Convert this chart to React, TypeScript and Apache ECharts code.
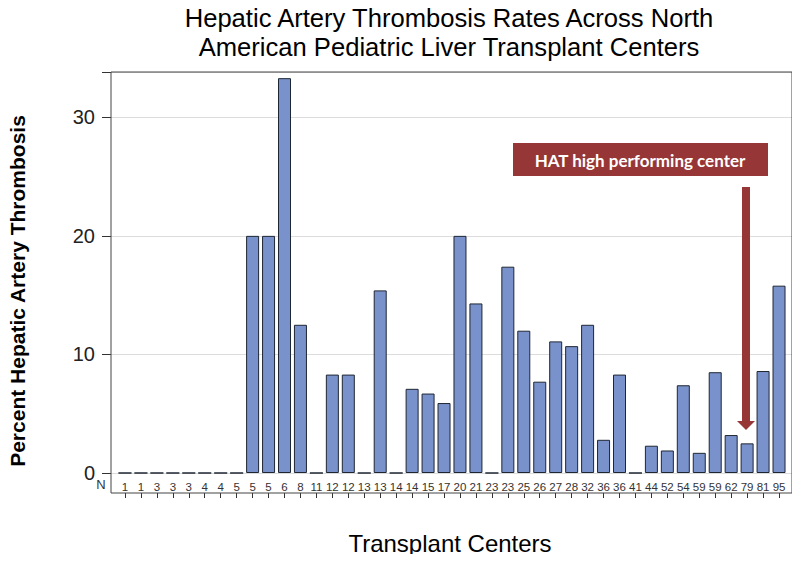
import React, { useEffect, useRef } from "react";
import * as echarts from "echarts";

const centers = ["1","1","3","3","3","4","4","5","5","5","6","8","11","12","12","13","13","14","14","15","17","20","21","23","23","25","26","27","28","32","36","36","41","44","52","54","59","59","62","79","81","95"];
const hatRates = [0,0,0,0,0,0,0,0,20,20,33.3,12.5,0,8.3,8.3,0,15.4,0,7.1,6.7,5.9,20,14.3,0,17.4,12,7.7,11.1,10.7,12.5,2.8,8.3,0,2.3,1.9,7.4,1.7,8.5,3.2,2.5,8.6,15.8];
const yTicks = [0, 10, 20, 30];
const Y_MAX = 33.82;

const FONT = "Liberation Sans";
const RED = "#973636";

export default function App() {
  const ref = useRef<HTMLDivElement>(null);
  useEffect(() => {
    if (!ref.current) return;
    const chart = echarts.init(ref.current, undefined, { renderer: "svg" });
    chart.setOption({
      animation: false,
      backgroundColor: "#fff",
      textStyle: { fontFamily: FONT },
      grid: [
        { left: 117, right: 13, top: 72, bottom: 89 },
        { left: 111, right: 8, top: 72, bottom: 89 },
      ],
      xAxis: [
        {
          type: "category",
          gridIndex: 0,
          data: centers,
          axisLine: { show: false },
          axisTick: { show: false },
          axisLabel: { fontSize: 11.5, color: "#333", margin: 8, interval: 0, fontFamily: FONT },
          splitLine: { show: false },
        },
        {
          type: "category",
          gridIndex: 0,
          data: centers,
          position: "bottom",
          offset: 20,
          axisLine: { show: false },
          axisTick: { show: true, alignWithLabel: true, length: 5, interval: 0, lineStyle: { color: "#333" } },
          axisLabel: { show: false },
        },
        { type: "value", gridIndex: 1, min: 0, max: 1, show: false },
      ],
      yAxis: [
        { type: "value", gridIndex: 0, min: 0, max: Y_MAX, show: false },
        {
          type: "value",
          gridIndex: 1,
          min: 0,
          max: Y_MAX,
          interval: 10,
          axisLine: { show: false },
          axisTick: { show: true, length: 9, lineStyle: { color: "#333" } },
          axisLabel: {
            fontSize: 20,
            color: "#222",
            margin: 16,
            fontFamily: FONT,
            formatter: (v: number) => (yTicks.includes(v) ? String(v) : ""),
          },
          splitLine: { show: true, lineStyle: { color: "#dcdcdc", width: 1 } },
        },
      ],
      series: [
        {
          type: "bar",
          xAxisIndex: 0,
          yAxisIndex: 0,
          data: hatRates,
          barWidth: 13,
          itemStyle: { color: "#7a92cb", borderColor: "#1f2633", borderWidth: 1 },
        },
      ],
      graphic: [
        {
          type: "rect",
          shape: { x: 111, y: 72, width: 681, height: 421 },
          style: { fill: "none", stroke: "#444", lineWidth: 1 },
          silent: true,
          z: 10,
        },
        {
          type: "text",
          x: 449,
          y: 3,
          style: {
            text: "Hepatic Artery Thrombosis Rates Across North\nAmerican Pediatric Liver Transplant Centers",
            fontSize: 25.6,
            lineHeight: 29,
            fontFamily: FONT,
            fill: "#000",
            textAlign: "center",
            textVerticalAlign: "top",
          },
        },
        {
          type: "text",
          x: 17,
          y: 291,
          rotation: Math.PI / 2,
          style: {
            text: "Percent Hepatic Artery Thrombosis",
            fontSize: 21,
            fontWeight: "bold",
            fontFamily: FONT,
            fill: "#000",
            textAlign: "center",
            textVerticalAlign: "middle",
          },
        },
        {
          type: "text",
          x: 450,
          y: 543,
          style: {
            text: "Transplant Centers",
            fontSize: 24,
            fontFamily: FONT,
            fill: "#000",
            textAlign: "center",
            textVerticalAlign: "middle",
          },
        },
        {
          type: "text",
          x: 101,
          y: 484,
          style: {
            text: "N",
            fontSize: 13,
            fontFamily: FONT,
            fill: "#333333",
            textAlign: "center",
            textVerticalAlign: "middle",
          },
        },
        {
          type: "rect",
          shape: { x: 513, y: 143, width: 255, height: 33 },
          style: { fill: RED },
          z: 20,
        },
        {
          type: "text",
          x: 640,
          y: 160,
          z: 21,
          style: {
            text: "HAT high performing center",
            fontSize: 17,
            fontWeight: "bold",
            fontFamily: "Lato",
            fill: "#fff",
            textAlign: "center",
            textVerticalAlign: "middle",
          },
        },
        {
          type: "rect",
          shape: { x: 742, y: 187, width: 8, height: 235 },
          style: { fill: RED },
          z: 20,
        },
        {
          type: "polygon",
          shape: { points: [[737, 421], [755, 421], [746, 430]] },
          style: { fill: RED },
          z: 20,
        },
      ],
    });
    return () => chart.dispose();
  }, []);
  return <div ref={ref} style={{ width: 800, height: 562, margin: -8 }} />;
}
